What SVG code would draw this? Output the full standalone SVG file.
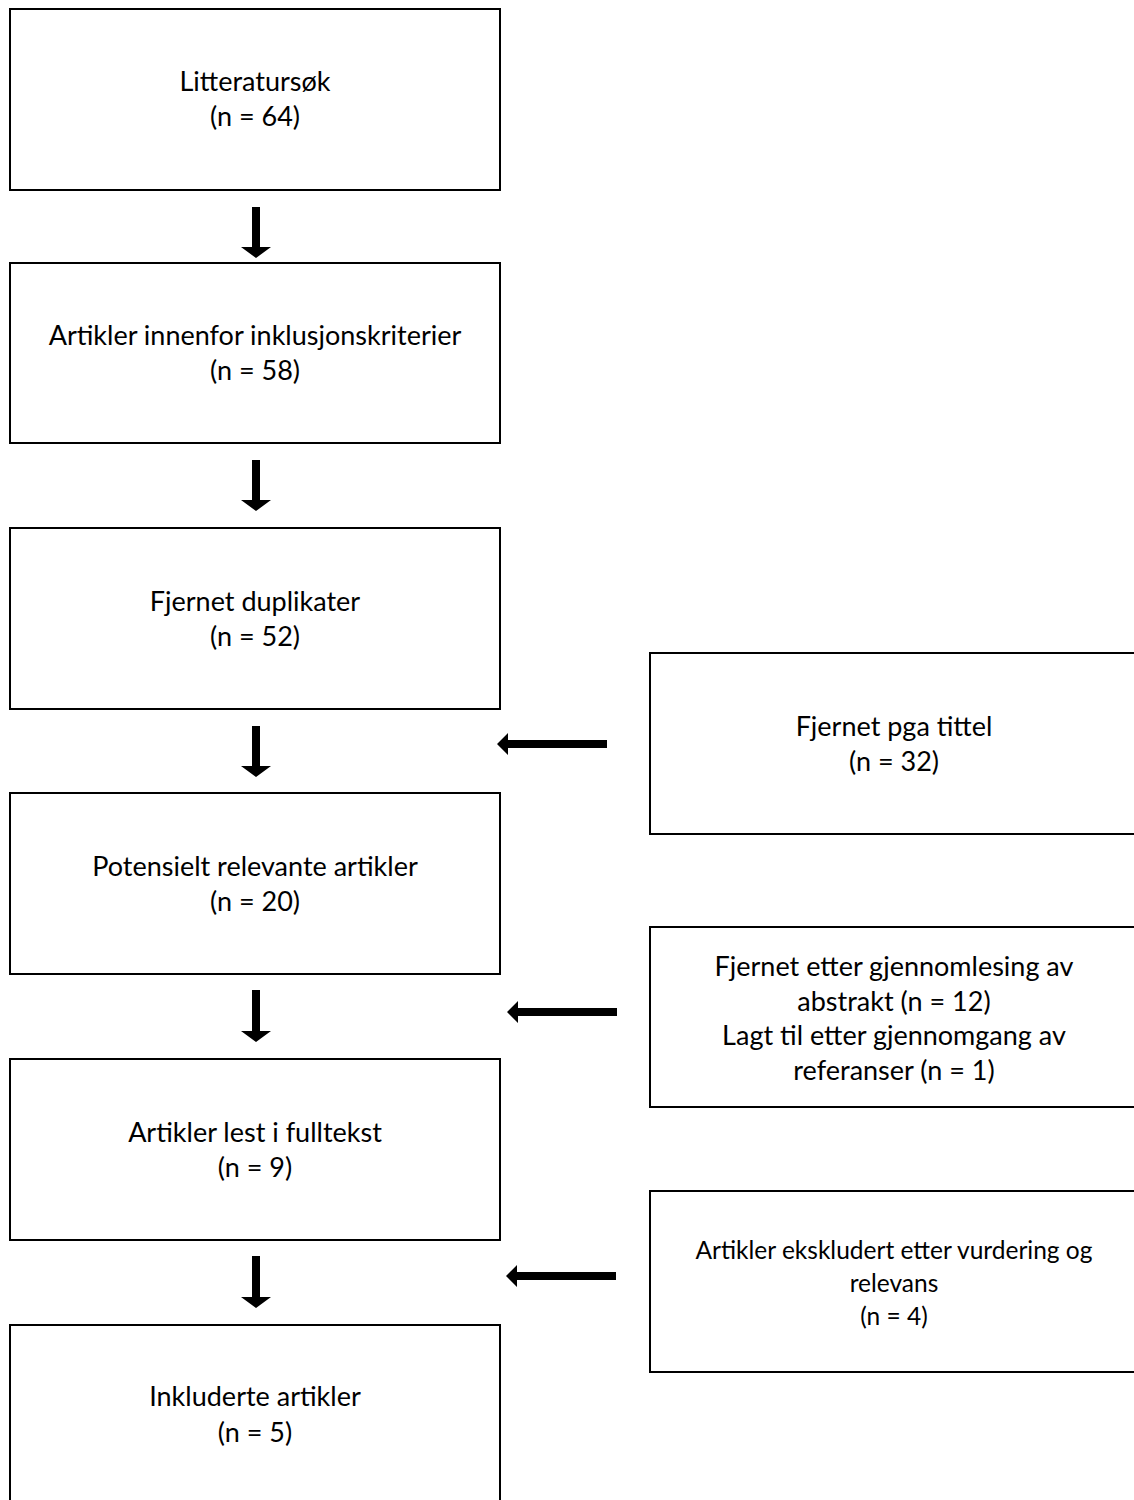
<svg xmlns="http://www.w3.org/2000/svg" width="1134" height="1500" viewBox="0 0 1134 1500">
<style>
.box{fill:#fff;stroke:#000;stroke-width:2}
.t{font-family:Lato,"Liberation Sans",sans-serif;font-size:27px;fill:#000;text-anchor:middle}
.s{font-size:24.5px}
.arr{fill:#000}
</style>
<rect width="1134" height="1500" fill="#fff"/>
<g id="n1"><rect class="box" x="10" y="9" width="490" height="181"/>
<text class="t" x="255" y="91">Litteratursøk</text><text class="t" x="255" y="126">(n = 64)</text></g>
<g id="n2"><rect class="box" x="10" y="263" width="490" height="180"/>
<text class="t" x="255" y="345">Artikler innenfor inklusjonskriterier</text><text class="t" x="255" y="380">(n = 58)</text></g>
<g id="n3"><rect class="box" x="10" y="528" width="490" height="181"/>
<text class="t" x="255" y="611">Fjernet duplikater</text><text class="t" x="255" y="646">(n = 52)</text></g>
<g id="n4"><rect class="box" x="10" y="793" width="490" height="181"/>
<text class="t" x="255" y="876">Potensielt relevante artikler</text><text class="t" x="255" y="911">(n = 20)</text></g>
<g id="n5"><rect class="box" x="10" y="1059" width="490" height="181"/>
<text class="t" x="255" y="1142">Artikler lest i fulltekst</text><text class="t" x="255" y="1177">(n = 9)</text></g>
<g id="n6"><rect class="box" x="10" y="1325" width="490" height="200"/>
<text class="t" x="255" y="1406">Inkluderte artikler</text><text class="t" x="255" y="1442">(n = 5)</text></g>
<g id="a"><rect class="box" x="650" y="653" width="500" height="181"/>
<text class="t" x="894" y="736">Fjernet pga tittel</text><text class="t" x="894" y="771">(n = 32)</text></g>
<g id="b"><rect class="box" x="650" y="927" width="500" height="180"/>
<text class="t" x="894" y="976">Fjernet etter gjennomlesing av</text><text class="t" x="894" y="1011">abstrakt (n = 12)</text>
<text class="t" x="894" y="1045">Lagt til etter gjennomgang av</text><text class="t" x="894" y="1080">referanser (n = 1)</text></g>
<g id="c"><rect class="box" x="650" y="1191" width="500" height="181"/>
<text class="t s" x="894" y="1259">Artikler ekskludert etter vurdering og</text><text class="t s" x="894" y="1292">relevans</text><text class="t s" x="894" y="1325">(n = 4)</text></g>
<g id="connectors">
<path class="arr" d="M252 207h8v40h11l-15 11l-15-11h11z"/>
<path class="arr" d="M252 460h8v40h11l-15 11l-15-11h11z"/>
<path class="arr" d="M252 726h8v40h11l-15 11l-15-11h11z"/>
<path class="arr" d="M252 990h8v41h11l-15 11l-15-11h11z"/>
<path class="arr" d="M252 1256h8v41h11l-15 11l-15-11h11z"/>
<path class="arr" d="M607 740v8h-99v7l-11-11l11-11v7z"/>
<path class="arr" d="M617 1008v8h-99v7l-11-11l11-11v7z"/>
<path class="arr" d="M616 1272v8h-99v7l-11-11l11-11v7z"/>
</g>
</svg>
